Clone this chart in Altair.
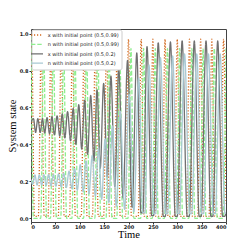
import altair as alt
import pandas as pd

labels = ["x with initial point (0.5,0.99)", "n with initial point (0.5,0.99)",
          "x with initial point (0.5,0.2)", "n with initial point (0.5,0.2)"]
colors = ["#d2691e", "#90ee90", "#707070", "#a9c9d3"]
dashes = [[1.2, 1.8], [4.4, 1.9], [1, 0], [1, 0]]
widths = [1.3, 1.3, 1.5, 1.6]

x_ticks = [0, 50, 100, 150, 200, 250, 300, 350, 400]
y_ticks = [0.0, 0.2, 0.4, 0.6, 0.8, 1.0]

# x, initial point (0.5, 0.99)  -- key points
xa_t = [0, 1.5, 7, 15, 21, 27, 35, 41, 47, 56, 62, 68, 79, 85, 91, 103, 109, 115,
        126, 132, 138, 149, 155, 161, 171, 177, 183, 194, 200, 206, 220, 226, 232,
        244, 250, 256, 269, 275, 281, 294, 300, 306, 319, 325, 331, 342, 348, 354,
        365, 371, 377, 389, 395, 400]
xa_v = [0.5, 0.95, 0.01, 0.01, 0.95, 0.01, 0.01, 0.955, 0.01, 0.01, 0.96, 0.01,
        0.01, 0.96, 0.01, 0.01, 0.96, 0.01, 0.01, 0.965, 0.01, 0.01, 0.965, 0.01,
        0.01, 0.965, 0.01, 0.01, 0.97, 0.01, 0.01, 0.97, 0.01, 0.01, 0.97, 0.01,
        0.01, 0.97, 0.01, 0.01, 0.97, 0.01, 0.01, 0.97, 0.01, 0.01, 0.97, 0.01,
        0.01, 0.97, 0.01, 0.01, 0.97, 0.08]

# n, initial point (0.5, 0.99)
na_t = [0, 5, 20, 26, 32, 40, 46, 52, 61, 67, 73, 84, 90, 96, 108, 114, 120, 131,
        137, 143, 154, 160, 166, 176, 182, 188, 199, 205, 211, 225, 231, 237, 249,
        255, 261, 274, 280, 286, 299, 305, 311, 324, 330, 336, 347, 353, 359, 370,
        376, 382, 394, 400]
na_v = [0.99, 0.0, 0.0, 0.93, 0.0, 0.0, 0.93, 0.0, 0.0, 0.92, 0.0, 0.0, 0.92, 0.0,
        0.0, 0.92, 0.0, 0.0, 0.92, 0.0, 0.0, 0.92, 0.0, 0.0, 0.92, 0.0, 0.0, 0.92,
        0.0, 0.0, 0.92, 0.0, 0.0, 0.92, 0.0, 0.0, 0.92, 0.0, 0.0, 0.92, 0.0, 0.0,
        0.92, 0.0, 0.0, 0.92, 0.0, 0.0, 0.92, 0.0, 0.0, 0.92]

# x, initial point (0.5, 0.2)
xb_t = [0, 5, 9.5, 14, 19, 23.5, 28, 33, 38, 43, 48, 53.5, 59, 64, 69.5, 75, 81,
        86.5, 92, 98, 104, 110, 116, 122.5, 129, 135.5, 142, 149, 156.5, 164, 172,
        180, 189, 198, 207.5, 217, 225.5, 229.5, 238, 247.5, 251.5, 261, 271.5,
        275.5, 286, 296, 300, 310, 320.5, 324.5, 335, 345, 349, 359, 369, 373, 383,
        393, 397, 400]
xb_v = [0.52, 0.54, 0.465, 0.54, 0.465, 0.54, 0.462, 0.545, 0.458, 0.55, 0.452,
        0.555, 0.445, 0.565, 0.435, 0.578, 0.42, 0.595, 0.40, 0.615, 0.375, 0.64,
        0.345, 0.665, 0.31, 0.695, 0.27, 0.73, 0.225, 0.77, 0.17, 0.81, 0.11, 0.855,
        0.06, 0.895, 0.03, 0.03, 0.93, 0.015, 0.015, 0.95, 0.01, 0.01, 0.955, 0.01,
        0.01, 0.96, 0.01, 0.01, 0.96, 0.01, 0.01, 0.96, 0.01, 0.01, 0.96, 0.01,
        0.01, 0.03]

# n, initial point (0.5, 0.2)
nb_t = [0, 3.5, 8, 12.5, 17, 22, 26.5, 31, 36, 41, 46, 51, 56.5, 62, 67, 72.5, 78,
        84, 89.5, 95, 101, 107, 113, 119, 125.5, 132, 138.5, 145, 152, 159.5, 167,
        175, 183, 192, 201.5, 211, 221, 229.5, 233.5, 242, 251.5, 255.5, 265.5, 276,
        280, 290.5, 300.5, 304.5, 315, 325.5, 329.5, 340, 350, 354, 364, 374, 378,
        388, 398, 400]
nb_v = [0.21, 0.185, 0.235, 0.18, 0.235, 0.18, 0.236, 0.178, 0.237, 0.176, 0.238,
        0.174, 0.24, 0.17, 0.245, 0.166, 0.255, 0.16, 0.27, 0.152, 0.29, 0.143, 0.31,
        0.132, 0.34, 0.12, 0.38, 0.103, 0.43, 0.085, 0.50, 0.065, 0.58, 0.048, 0.67,
        0.035, 0.76, 0.03, 0.03, 0.83, 0.025, 0.025, 0.87, 0.025, 0.025, 0.88, 0.025,
        0.025, 0.89, 0.025, 0.025, 0.89, 0.025, 0.025, 0.89, 0.025, 0.025, 0.89,
        0.025, 0.03]

series = [(labels[0], xa_t, xa_v), (labels[1], na_t, na_v),
          (labels[2], xb_t, xb_v), (labels[3], nb_t, nb_v)]
rows = []
for name, ts, vs in series:
    for t, v in zip(ts, vs):
        rows.append({"t": t, "v": v, "s": name})
df = pd.DataFrame(rows)

leg = alt.Legend(title=None, orient="none", legendX=0.5, legendY=0.5,
                 symbolType="M-3,0L3,0", symbolSize=16, symbolStrokeWidth=1.3,
                 symbolFillColor="transparent",
                 labelFontSize=5, labelFont="DejaVu Sans", labelColor="#222",
                 labelLimit=200, labelOffset=7.7, rowPadding=3.4, padding=2.5,
                 fillColor="white", strokeColor="#cccccc", cornerRadius=2)

base = alt.Chart(df).mark_line(interpolate="monotone", clip=True).encode(
    x=alt.X("t:Q", scale=alt.Scale(domain=[0, 400], nice=False, zero=False),
            axis=alt.Axis(values=x_ticks, title="Time", grid=False, domain=False,
                          labelFontSize=5, labelFontWeight="bold", labelFont="DejaVu Sans",
                          labelColor="#222", tickSize=2, tickColor="#333",
                          labelPadding=0.5, titleFont="Liberation Serif",
                          titleFontSize=10.5, titleFontWeight="normal",
                          titleColor="black", titlePadding=0)),
    y=alt.Y("v:Q", scale=alt.Scale(domain=[-0.02, 1.025], nice=False, zero=False),
            axis=alt.Axis(values=y_ticks, format=".1f", title="System state",
                          grid=False, domain=False, labelFontSize=5,
                          labelFontWeight="bold", labelFont="DejaVu Sans",
                          labelColor="#222", tickSize=2, tickColor="#333",
                          labelPadding=1, titleFont="Liberation Serif",
                          titleFontSize=10.5, titleFontWeight="normal",
                          titleColor="black", titlePadding=2)),
    color=alt.Color("s:N", scale=alt.Scale(domain=labels, range=colors), legend=leg),
    strokeDash=alt.StrokeDash("s:N", scale=alt.Scale(domain=labels, range=dashes), legend=leg),
    strokeWidth=alt.StrokeWidth("s:N", scale=alt.Scale(domain=labels, range=widths), legend=None),
)

layers = [base.transform_filter(alt.datum.s == name) for name in labels]

chart = alt.layer(*layers).properties(
    width=195, height=193,
    autosize=alt.AutoSizeParams(type="none"),
    padding={"left": 23, "top": 21, "right": 10, "bottom": 22},
).configure_view(stroke="#444", strokeWidth=1)

chart.save("out.html", embed_options={"renderer": "svg", "actions": False})
